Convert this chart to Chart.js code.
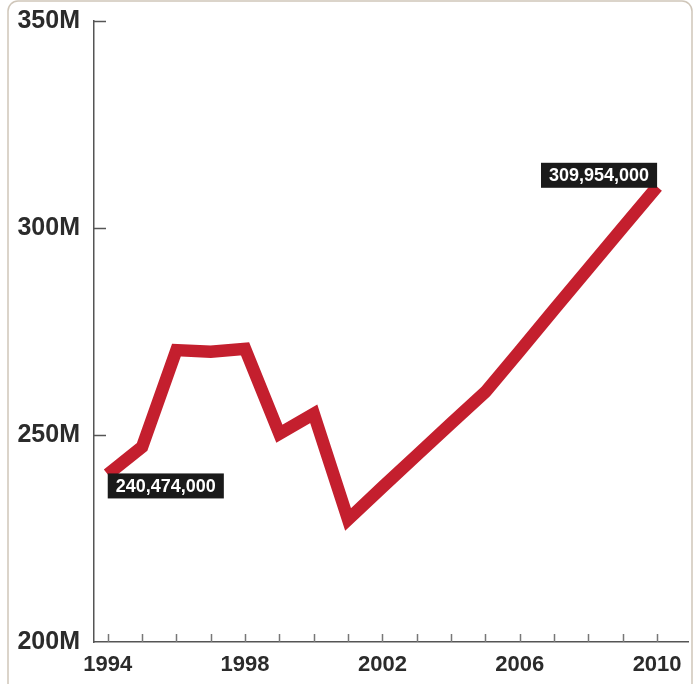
<!DOCTYPE html>
<html>
<head>
<meta charset="utf-8">
<script src="https://cdn.jsdelivr.net/npm/chart.js@4.4.2/dist/chart.umd.min.js"></script>
<style>
  html, body { margin: 0; padding: 0; background: #fff; }
  #wrap { width: 697px; height: 684px; position: relative; }
</style>
</head>
<body>
<div id="wrap"><canvas id="grafico" width="697" height="684"></canvas></div>
<script>
// Datos (millones)
const anios = [1994, 1995, 1996, 1997, 1998, 1999, 2000, 2001, 2002, 2003, 2004, 2005, 2006, 2007, 2008, 2009, 2010];
const valores = [240.474, 247.1, 270.5, 270.1, 270.8, 250.3, 255.1, 229.6, 237.4, 245.1, 252.8, 260.4, 270.3, 280.3, 290.2, 300.1, 309.954];
const etiquetasAnio = [1994, 1998, 2002, 2006, 2010];
const ticksY = [200, 250, 300, 350];
const etiquetaInicio = '240,474,000';
const etiquetaFin = '309,954,000';

const rojo = '#c41f2e';
const gris = '#555';

// marco redondeado alrededor del gráfico
const marco = {
  id: 'marco',
  beforeDraw(chart) {
    const c = chart.ctx;
    c.save();
    c.fillStyle = '#fff';
    c.fillRect(0, 0, chart.width, chart.height);
    c.strokeStyle = '#cfc6b9';
    c.lineWidth = 1.5;
    c.beginPath();
    c.roundRect(8, 1, 684, 692, 10);
    c.stroke();
    c.restore();
  }
};

// marcas de ticks hacia dentro
const marcas = {
  id: 'marcas',
  afterDraw(chart) {
    const c = chart.ctx;
    const x = chart.scales.x, y = chart.scales.y;
    const area = chart.chartArea;
    c.save();
    c.strokeStyle = '#777';
    c.lineWidth = 1.5;
    anios.forEach(a => {
      const px = Math.round(x.getPixelForValue(a)) + 0.5;
      c.beginPath();
      c.moveTo(px, area.bottom);
      c.lineTo(px, area.bottom - 8);
      c.stroke();
    });
    c.strokeStyle = gris;
    ticksY.slice(1).forEach(v => {
      const py = Math.round(y.getPixelForValue(v)) + 0.5;
      c.beginPath();
      c.moveTo(area.left, py);
      c.lineTo(area.left + 12, py);
      c.stroke();
    });
    c.restore();
  }
};

// cajas negras con los valores extremos
const cajas = {
  id: 'cajas',
  afterDatasetsDraw(chart) {
    const c = chart.ctx;
    const pts = chart.getDatasetMeta(0).data;
    const p0 = pts[0], p1 = pts[pts.length - 1];
    c.save();
    c.font = 'bold 18px "Liberation Sans", Arial, sans-serif';
    c.textBaseline = 'middle';
    const dibujar = (texto, left, top) => {
      const w = c.measureText(texto).width + 16;
      const h = 25;
      c.fillStyle = '#1a1a1a';
      c.fillRect(left, top, w, h);
      c.fillStyle = '#fff';
      c.fillText(texto, left + 8, top + h / 2 + 1);
      return w;
    };
    dibujar(etiquetaInicio, p0.x, p0.y - 1);
    const w = c.measureText(etiquetaFin).width + 16;
    dibujar(etiquetaFin, p1.x - w, p1.y - 24);
    c.restore();
  }
};

new Chart(document.getElementById('grafico'), {
  type: 'line',
  data: {
    datasets: [{
      data: anios.map((a, i) => ({ x: a, y: valores[i] })),
      borderColor: rojo,
      borderWidth: 12.5,
      borderJoinStyle: 'miter',
      borderCapStyle: 'butt',
      pointRadius: 0,
      tension: 0,
      fill: false
    }]
  },
  options: {
    responsive: false,
    animation: false,
    layout: { padding: { top: 21, right: 9, left: 0, bottom: 0 } },
    plugins: { legend: { display: false }, tooltip: { enabled: false } },
    scales: {
      x: {
        type: 'linear',
        min: 1993.6,
        max: 2010.9,
        afterBuildTicks: (s) => { s.ticks = etiquetasAnio.map(v => ({ value: v })); },
        afterFit: (s) => { s.height = 42; s.paddingLeft = 0; s.paddingRight = 0; },
        grid: { display: false, drawTicks: false },
        border: { display: true, color: gris, width: 1.5 },
        ticks: {
          padding: 10,
          color: '#2b2b2b',
          font: { family: '"Liberation Sans", Arial, sans-serif', size: 22, weight: 'bold' },
          maxRotation: 0,
          callback: (v) => String(v)
        }
      },
      y: {
        min: 200,
        max: 350,
        afterBuildTicks: (s) => { s.ticks = ticksY.map(v => ({ value: v })); },
        afterFit: (s) => { s.width = 94; s.paddingTop = 0; s.paddingBottom = 0; },
        grid: { display: false, drawTicks: false },
        border: { display: true, color: gris, width: 1.5 },
        ticks: {
          padding: 14,
          color: '#2b2b2b',
          font: { family: '"Liberation Sans", Arial, sans-serif', size: 25, weight: 'bold' },
          callback: (v) => v + 'M'
        }
      }
    }
  },
  plugins: [marco, marcas, cajas]
});
</script>
</body>
</html>
